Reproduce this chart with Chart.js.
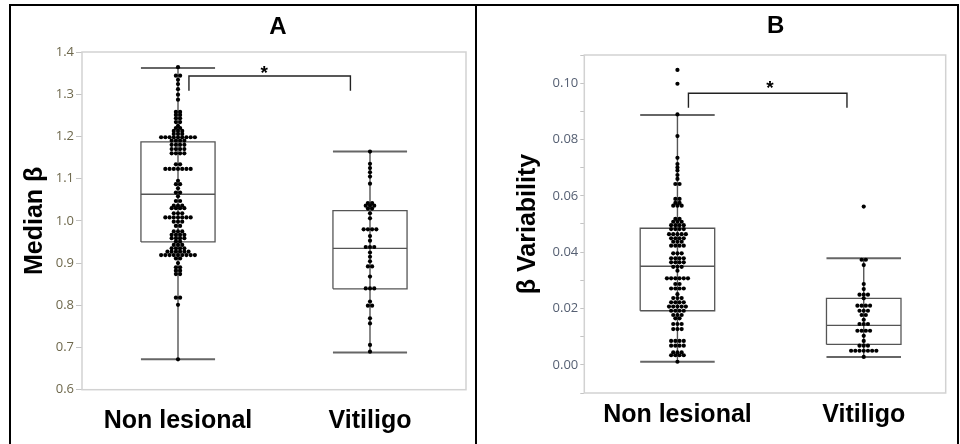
<!DOCTYPE html>
<html>
<head>
<meta charset="utf-8">
<script src="https://cdn.jsdelivr.net/npm/chart.js@4.4.1/dist/chart.umd.min.js"></script>
<style>
  html, body { margin: 0; padding: 0; background: #fff; overflow: hidden; }
  body { width: 960px; height: 444px; position: relative; }
  .frame { position: absolute; left: 9px; top: 4px; width: 946px; height: 460px; border: 2px solid #000; border-bottom: none; }
  .divider { position: absolute; left: 475px; top: 4px; width: 2px; height: 460px; background: #000; }
  .panel { position: absolute; top: 5px; height: 438px; }
  #panelA { left: 10px; width: 465px; }
  #panelB { left: 478px; width: 478px; }
</style>
</head>
<body>
<div class="frame"></div>
<div class="divider"></div>
<div class="panel" id="panelA"><canvas id="chartA"></canvas></div>
<div class="panel" id="panelB"><canvas id="chartB"></canvas></div>
<script>
const categories = ["Non lesional", "Vitiligo"];

// Panel A - median beta, one entry per dot
const medianNonLesional = [
    1.364, 1.344, 1.344, 1.334, 1.324, 1.312, 1.299, 1.287,
    1.258, 1.258, 1.251, 1.251, 1.243, 1.243, 1.234, 1.234, 1.225, 1.220, 1.220,
    1.213, 1.213, 1.213, 1.206, 1.206, 1.206,
    1.198, 1.198, 1.198, 1.198, 1.198, 1.198, 1.198, 1.198, 1.198,
    1.190, 1.190, 1.190, 1.190, 1.180, 1.180, 1.180, 1.180,
    1.170, 1.170, 1.170, 1.170, 1.160, 1.160, 1.160, 1.160,
    1.134, 1.134, 1.123, 1.123, 1.123, 1.123, 1.123, 1.123, 1.123,
    1.095, 1.087, 1.087, 1.077, 1.067, 1.067, 1.058, 1.047, 1.047,
    1.036, 1.036, 1.036, 1.030, 1.030, 1.030, 1.030, 1.018, 1.018, 1.018,
    1.008, 1.008, 1.008, 1.008, 1.008, 1.008, 1.008, 0.998, 0.998, 0.998, 0.988, 0.988,
    0.975, 0.975, 0.975, 0.967, 0.967, 0.967, 0.967, 0.959, 0.959, 0.959, 0.959,
    0.951, 0.951, 0.943, 0.943, 0.943, 0.935, 0.935, 0.935, 0.935,
    0.927, 0.927, 0.927, 0.927, 0.927, 0.927,
    0.919, 0.919, 0.919, 0.919, 0.919, 0.919, 0.919, 0.919, 0.919,
    0.911, 0.911, 0.900, 0.890, 0.890, 0.882, 0.882, 0.874, 0.874,
    0.818, 0.818, 0.801, 0.672
];
const medianVitiligo = [
    1.164, 1.135, 1.125, 1.115, 1.105, 1.088,
    1.042, 1.042, 1.036, 1.036, 1.036, 1.029, 1.029, 1.018, 1.006,
    0.980, 0.980, 0.980, 0.980, 0.964, 0.953, 0.938, 0.938, 0.938,
    0.925, 0.915, 0.904, 0.892, 0.892, 0.868, 0.840, 0.840, 0.840,
    0.809, 0.799, 0.799, 0.769, 0.757, 0.706, 0.690
];
// whisker low, Q1, median, Q3, whisker high for each category
const medianLow = [0.672, 0.688];
const medianQ1 = [0.950, 0.839];
const medianMid = [1.063, 0.935];
const medianQ3 = [1.187, 1.024];
const medianHigh = [1.362, 1.164];
const medianTicks = [0.6, 0.7, 0.8, 0.9, 1.0, 1.1, 1.2, 1.3, 1.4];

// Panel B - beta variability
const variabilityNonLesional = [
    0.1047, 0.0998, 0.0889, 0.0812, 0.0735, 0.0713, 0.0701, 0.0690, 0.0674, 0.0660,
    0.0642, 0.0642, 0.0589, 0.0589, 0.0575, 0.0575, 0.0565, 0.0565, 0.0565,
    0.0518, 0.0518, 0.0508, 0.0508, 0.0508, 0.0496, 0.0496, 0.0496, 0.0496,
    0.0482, 0.0482, 0.0482, 0.0482, 0.0464, 0.0464, 0.0464, 0.0464, 0.0464,
    0.0449, 0.0449, 0.0449, 0.0449, 0.0437, 0.0437, 0.0437, 0.0423, 0.0423, 0.0423, 0.0423,
    0.0396, 0.0396, 0.0396, 0.0378, 0.0378, 0.0378, 0.0378, 0.0364, 0.0364, 0.0364, 0.0364,
    0.0348, 0.0348, 0.0348, 0.0334,
    0.0307, 0.0307, 0.0307, 0.0307, 0.0307, 0.0307, 0.0287, 0.0287,
    0.0271, 0.0271, 0.0271, 0.0271, 0.0251, 0.0237, 0.0237, 0.0237,
    0.0222, 0.0222, 0.0222, 0.0222, 0.0207, 0.0207, 0.0207, 0.0207, 0.0207,
    0.0192, 0.0192, 0.0192, 0.0192, 0.0177, 0.0177, 0.0177, 0.0165, 0.0165,
    0.0145, 0.0145, 0.0145, 0.0127, 0.0127, 0.0127,
    0.0085, 0.0085, 0.0085, 0.0085, 0.0068, 0.0068, 0.0068, 0.0068,
    0.0044, 0.0044, 0.0044, 0.0034, 0.0034, 0.0034, 0.0034, 0.0011
];
const variabilityVitiligo = [
    0.0562, 0.0373, 0.0373, 0.0354, 0.0287, 0.0269, 0.0249, 0.0249, 0.0249, 0.0236,
    0.0210, 0.0210, 0.0210, 0.0210, 0.0192, 0.0192, 0.0192, 0.0177, 0.0177, 0.0160,
    0.0145, 0.0145, 0.0145, 0.0121, 0.0121, 0.0121, 0.0121, 0.0103, 0.0085,
    0.0068, 0.0068, 0.0068, 0.0050, 0.0050, 0.0050, 0.0050, 0.0050, 0.0050, 0.0050, 0.0028
];
const variabilityLow = [0.0011, 0.0028];
const variabilityQ1 = [0.0192, 0.00725];
const variabilityMid = [0.0350, 0.0140];
const variabilityQ3 = [0.0485, 0.0236];
const variabilityHigh = [0.0887, 0.0378];
const variabilityTicks = [0.00, 0.02, 0.04, 0.06, 0.08, 0.10];

const LABEL_FONT = "'Liberation Sans', Arial, sans-serif";

// spread equal values sideways like a dot plot
const swarm = (values, center, step) => {
    const counts = {};
    values.forEach(v => counts[v] = (counts[v] || 0) + 1);
    const seen = {};
    return values.map(v => {
        seen[v] = seen[v] === undefined ? 0 : seen[v] + 1;
        return { x: center + (seen[v] - (counts[v] - 1) / 2) * step, y: v };
    });
};

const line = (points, color, width) => ({
    data: points,
    showLine: true,
    borderColor: color,
    borderWidth: width,
    pointRadius: 0,
    fill: false,
    order: 1
});

const framePlugin = {
    id: "plotFrame",
    beforeDatasetsDraw(chart) {
        const { ctx, chartArea: a } = chart;
        ctx.save();
        ctx.strokeStyle = "#d2d2d2";
        ctx.lineWidth = 1.5;
        ctx.strokeRect(a.left, a.top, a.width, a.height);
        ctx.restore();
    }
};

const labelPlugin = {
    id: "panelText",
    afterDraw(chart, args, opts) {
        const { ctx, chartArea: a, scales } = chart;
        ctx.save();
        ctx.fillStyle = "#000";
        ctx.textAlign = "center";
        ctx.textBaseline = "middle";
        ctx.font = "bold 24px " + LABEL_FONT;
        ctx.fillText(opts.title, (a.left + a.right) / 2 + opts.titleDx, opts.titleY);
        ctx.textBaseline = "alphabetic";
        ctx.font = "bold 19px " + LABEL_FONT;
        ctx.fillText("*", scales.x.getPixelForValue(opts.starX), scales.y.getPixelForValue(opts.starY) + 11);
        ctx.restore();
    }
};

function makePanel(id, cfg) {
    const datasets = [];
    const hw = cfg.halfWidth;
    cfg.groups.forEach((values, i) => {
        const c = i + 1;
        datasets.push({
            data: swarm(values, c, cfg.dotStep),
            pointRadius: 2.1,
            pointBackgroundColor: "#000",
            pointBorderWidth: 0,
            order: 0
        });
        datasets.push(line([{ x: c, y: cfg.low[i] }, { x: c, y: cfg.high[i] }], "#555", 1.4));
        datasets.push(line([{ x: c - hw, y: cfg.low[i] }, { x: c + hw, y: cfg.low[i] }], "#666", 2));
        datasets.push(line([{ x: c - hw, y: cfg.high[i] }, { x: c + hw, y: cfg.high[i] }], "#666", 2));
        datasets.push(line([
            { x: c - hw, y: cfg.q1[i] }, { x: c + hw, y: cfg.q1[i] },
            { x: c + hw, y: cfg.q3[i] }, { x: c - hw, y: cfg.q3[i] },
            { x: c - hw, y: cfg.q1[i] }
        ], "#555", 1.3));
        datasets.push(line([{ x: c - hw, y: cfg.mid[i] }, { x: c + hw, y: cfg.mid[i] }], "#555", 1.3));
    });
    const b = cfg.bracket;
    datasets.push(line([
        { x: b.x1, y: b.leg }, { x: b.x1, y: b.top }, { x: b.x2, y: b.top }, { x: b.x2, y: b.leg }
    ], "#222", 1.4));

    return new Chart(document.getElementById(id), {
        type: "scatter",
        data: { datasets },
        options: {
            responsive: true,
            maintainAspectRatio: false,
            animation: false,
            layout: { padding: { top: cfg.padTop, right: cfg.padRight, left: 0, bottom: 0 } },
            plugins: {
                legend: { display: false },
                tooltip: { enabled: false },
                panelText: cfg.text
            },
            scales: {
                x: {
                    type: "linear",
                    min: 0.5,
                    max: cfg.xMax,
                    afterBuildTicks: axis => { axis.ticks = [{ value: 1 }, { value: 2 }]; },
                    afterFit: axis => { axis.height = cfg.xAxisHeight; },
                    grid: { display: false },
                    border: { display: false },
                    ticks: {
                        callback: v => categories[v - 1],
                        color: "#000",
                        font: { family: LABEL_FONT, size: 25, weight: "bold" },
                        padding: cfg.xPad,
                        maxRotation: 0,
                        autoSkip: false
                    }
                },
                y: {
                    min: cfg.yMin,
                    max: cfg.yMax,
                    afterBuildTicks: axis => { axis.ticks = cfg.tickValues.map(v => ({ value: v })); },
                    afterFit: axis => { axis.width = cfg.yAxisWidth; },
                    title: {
                        display: true,
                        text: cfg.yTitle,
                        color: "#000",
                        font: { family: LABEL_FONT, size: 25, weight: "bold" },
                        padding: { top: cfg.yTitlePad, bottom: 0 }
                    },
                    grid: { drawOnChartArea: false, tickLength: cfg.tickLength, color: "#c4c4c4" },
                    border: { display: false },
                    ticks: {
                        callback: cfg.tickLabel,
                        color: cfg.tickColor,
                        font: { family: "'Open Sans', sans-serif", size: 13 },
                        padding: 2,
                        autoSkip: false
                    }
                }
            }
        },
        plugins: [framePlugin, labelPlugin]
    });
}

makePanel("chartA", {
    groups: [medianNonLesional, medianVitiligo],
    low: medianLow, q1: medianQ1, mid: medianMid, q3: medianQ3, high: medianHigh,
    halfWidth: 0.193, dotStep: 0.022, xMax: 2.5,
    yMin: 0.6, yMax: 1.4,
    tickValues: medianTicks,
    tickLabel: v => v.toFixed(1),
    tickColor: "#6e684c",
    tickLength: 6,
    yTitle: "Median β", yTitlePad: 10, yAxisWidth: 72,
    xAxisHeight: 53.3, xPad: 8,
    padTop: 47, padRight: 9,
    bracket: { x1: 1.057, x2: 1.898, top: 1.343, leg: 1.308 },
    text: { title: "A", titleDx: 4, titleY: 22, starX: 1.449, starY: 1.363 }
});

const variabilityMinor = [];
for (let k = -1; k <= 11; k++) variabilityMinor.push(k / 100);

makePanel("chartB", {
    groups: [variabilityNonLesional, variabilityVitiligo],
    low: variabilityLow, q1: variabilityQ1, mid: variabilityMid, q3: variabilityQ3, high: variabilityHigh,
    halfWidth: 0.2, dotStep: 0.0226, xMax: 2.44,
    yMin: -0.01, yMax: 0.11,
    tickValues: variabilityMinor,
    tickLabel: v => variabilityTicks.some(t => Math.abs(t - v) < 1e-6) ? v.toFixed(2) : "",
    tickColor: "#566073",
    tickLength: 4,
    yTitle: "β Variability", yTitlePad: 34.7, yAxisWidth: 106.3,
    xAxisHeight: 50, xPad: -1,
    padTop: 50, padRight: 10.3,
    bracket: { x1: 1.059, x2: 1.91, top: 0.0964, leg: 0.0913 },
    text: { title: "B", titleDx: 10.7, titleY: 21.5, starX: 1.497, starY: 0.1001 }
});
</script>
</body>
</html>
